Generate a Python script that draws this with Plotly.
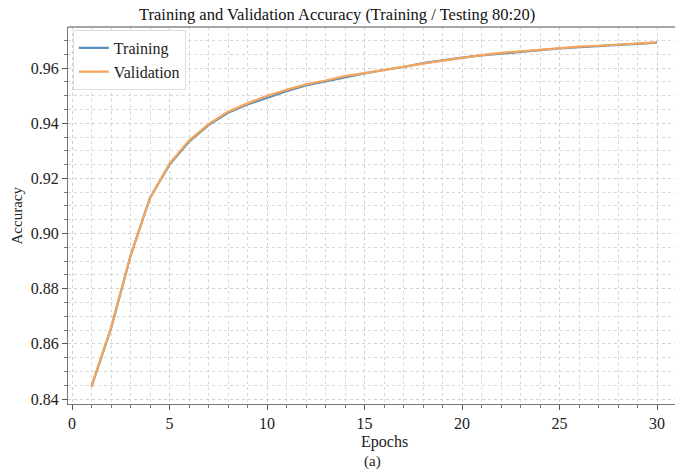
import plotly.graph_objects as go

epochs = list(range(1, 31))
training = [0.8445, 0.8655, 0.8918, 0.9130, 0.9250, 0.9333, 0.9393, 0.9438, 0.9468, 0.9493,
            0.9516, 0.9537, 0.9552, 0.9568, 0.9581, 0.9593, 0.9604, 0.9618, 0.9629, 0.9638,
            0.9646, 0.9653, 0.9659, 0.9665, 0.9671, 0.9676, 0.9680, 0.9684, 0.9688, 0.9692]
validation = [0.8447, 0.8658, 0.8920, 0.9128, 0.9254, 0.9337, 0.9397, 0.9442, 0.9472, 0.9500,
              0.9521, 0.9541, 0.9555, 0.9571, 0.9582, 0.9594, 0.9605, 0.9616, 0.9627, 0.9638,
              0.9647, 0.9655, 0.9661, 0.9667, 0.9673, 0.9678, 0.9681, 0.9685, 0.9689, 0.9693]
y_ticks = [0.84, 0.86, 0.88, 0.90, 0.92, 0.94, 0.96]
x_ticks = [0, 5, 10, 15, 20, 25, 30]

FONT = "Liberation Serif, Times New Roman, serif"

fig = go.Figure()
fig.add_trace(go.Scatter(x=epochs, y=training, mode="lines", name="Training",
                         line=dict(color="#5a8fbd", width=2.2)))
fig.add_trace(go.Scatter(x=epochs, y=validation, mode="lines", name="Validation",
                         line=dict(color="#f4a55c", width=2.2)))

grid = dict(gridcolor="#d0d0d0", griddash="dot", gridwidth=1)
fig.update_layout(
    width=675, height=470,
    margin=dict(l=68, r=0, t=27, b=66),
    paper_bgcolor="white", plot_bgcolor="white",
    font=dict(family=FONT, size=15, color="#222"),
    showlegend=True,
    legend=dict(x=0.008, y=0.992, xanchor="left", yanchor="top",
                bgcolor="white", bordercolor="#dddddd", borderwidth=1,
                font=dict(family=FONT, size=16, color="#222"),
                tracegroupgap=0, itemwidth=30),
    xaxis=dict(range=[-0.205, 30.92], tickvals=x_ticks, ticks="outside", ticklen=5,
               tickcolor="#555", showline=True, linecolor="#777", linewidth=1.2,
               zeroline=False, tickfont=dict(size=16), **grid,
               minor=dict(dtick=1, ticks="outside", ticklen=3, tickcolor="#777",
                          showgrid=True, gridcolor="#d8d8d8", griddash="dot")),
    yaxis=dict(range=[0.8382, 0.9749], tickvals=y_ticks, tickformat=".2f",
               ticks="outside", ticklen=5, tickcolor="#555",
               showline=True, linecolor="#777", linewidth=1.2, zeroline=False,
               tickfont=dict(size=16), **grid,
               minor=dict(dtick=0.005, tick0=0.84, ticks="outside", ticklen=3, tickcolor="#777",
                          showgrid=True, gridcolor="#d8d8d8", griddash="dot")),
)
fig.add_shape(type="line", xref="paper", yref="paper", x0=0, x1=1, y0=1, y1=1,
              line=dict(color="#888", width=1.5))
fig.add_annotation(text="Training and Validation Accuracy (Training / Testing 80:20)",
                   xref="paper", yref="paper", x=(337 - 68) / 607, y=1, yanchor="bottom",
                   yshift=1, showarrow=False, font=dict(family=FONT, size=16.5, color="#111"))
fig.add_annotation(text="Epochs", xref="paper", yref="paper", x=(384 - 68) / 607, y=0,
                   yanchor="top", yshift=-27, showarrow=False,
                   font=dict(family=FONT, size=16, color="#222"))
fig.add_annotation(text="(a)", xref="paper", yref="paper", x=(372 - 68) / 607, y=0,
                   yanchor="top", yshift=-47, showarrow=False,
                   font=dict(family=FONT, size=15, color="#222"))
fig.add_annotation(text="Accuracy", xref="paper", yref="paper", x=0, xanchor="center",
                   xshift=-52, y=0.5, yanchor="middle",
                   textangle=-90, showarrow=False,
                   font=dict(family=FONT, size=15, color="#222"))

fig.write_html("out.html")
